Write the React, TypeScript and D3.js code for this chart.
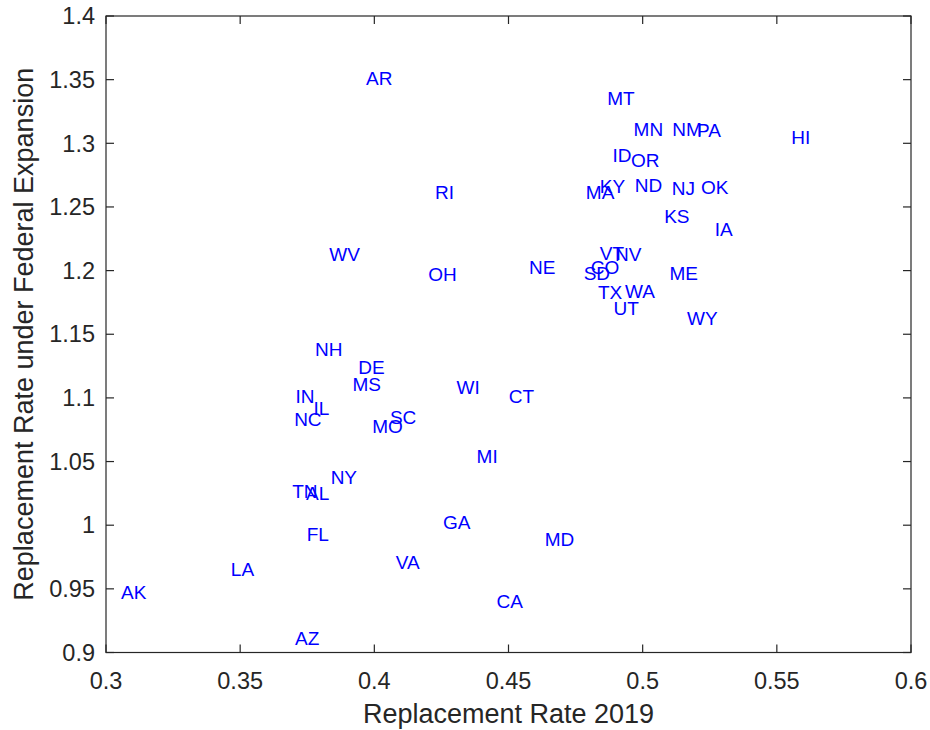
import React, { useEffect, useRef } from "react";
import * as d3 from "d3";

// state abbreviations with their 2019 replacement rate and the rate under federal expansion
const states = ["AR", "RI", "WV", "OH", "NH", "MT", "MN", "NM", "PA", "HI",
  "ID", "OR", "MA", "KY", "ND", "NJ", "OK", "KS", "IA", "VT",
  "NV", "NE", "CO", "SD", "ME", "TX", "WA", "UT", "WY", "DE",
  "MS", "IN", "IL", "NC", "SC", "MO", "NY", "TN", "AL", "FL",
  "LA", "VA", "AK", "AZ", "GA", "WI", "CT", "MI", "MD", "CA"];

const rate2019 = [0.3958, 0.4215, 0.3821, 0.4190, 0.3768, 0.4857, 0.4955, 0.5099, 0.5191, 0.5543,
  0.4876, 0.4945, 0.4777, 0.4829, 0.4959, 0.5097, 0.5206, 0.5069, 0.5257, 0.4829,
  0.4886, 0.4565, 0.4795, 0.4769, 0.5089, 0.4822, 0.4923, 0.4880, 0.5154, 0.3929,
  0.3907, 0.3695, 0.3762, 0.3690, 0.4047, 0.3981, 0.3826, 0.3683, 0.3734, 0.3737,
  0.3454, 0.4069, 0.3045, 0.3693, 0.4245, 0.4295, 0.4490, 0.4370, 0.4624, 0.4444];

const rateExpansion = [1.3508, 1.2613, 1.2128, 1.1969, 1.1379, 1.3351, 1.3108, 1.3108, 1.3102, 1.3045,
  1.2906, 1.2867, 1.2613, 1.2665, 1.2670, 1.2644, 1.2652, 1.2429, 1.2322, 1.2139,
  1.2128, 1.2024, 1.2029, 1.1977, 1.1977, 1.1832, 1.1838, 1.1702, 1.1624, 1.1239,
  1.1107, 1.1013, 1.0921, 1.0833, 1.0846, 1.0778, 1.0379, 1.0262, 1.0254, 0.9929,
  0.9655, 0.9712, 0.9476, 0.9115, 1.0024, 1.1086, 1.1016, 1.0544, 0.9890, 0.9398];

const xTicks = [0.3, 0.35, 0.4, 0.45, 0.5, 0.55, 0.6];
const yTicks = [0.9, 0.95, 1, 1.05, 1.1, 1.15, 1.2, 1.25, 1.3, 1.35, 1.4];

const W = 930;
const H = 730;
const FONT = "'Liberation Sans', Arial, Helvetica, sans-serif";
const AXIS_COLOR = "#262626";

export default function App() {
  const ref = useRef<SVGSVGElement>(null);

  useEffect(() => {
    const svg = d3.select(ref.current);
    svg.selectAll("*").remove();

    const left = 106, right = 911, top = 16, bottom = 652.5;

    const x = d3.scaleLinear().domain([0.3, 0.6]).range([left, right]);
    const y = d3.scaleLinear().domain([0.9, 1.4]).range([bottom, top]);
    const fmt = (d: number) => String(+d.toFixed(2));

    svg.append("rect")
      .attr("width", W)
      .attr("height", H)
      .attr("fill", "white");

    const tickLen = 8;
    const g = svg.append("g").attr("stroke", AXIS_COLOR).attr("stroke-width", 1.2);

    // ticks pointing inward on all four sides
    xTicks.forEach(t => {
      g.append("line").attr("x1", x(t)).attr("x2", x(t)).attr("y1", bottom).attr("y2", bottom - tickLen);
      g.append("line").attr("x1", x(t)).attr("x2", x(t)).attr("y1", top).attr("y2", top + tickLen);
    });
    yTicks.forEach(t => {
      g.append("line").attr("x1", left).attr("x2", left + tickLen).attr("y1", y(t)).attr("y2", y(t));
      g.append("line").attr("x1", right).attr("x2", right - tickLen).attr("y1", y(t)).attr("y2", y(t));
    });

    g.append("rect")
      .attr("x", left)
      .attr("y", top)
      .attr("width", right - left)
      .attr("height", bottom - top)
      .attr("fill", "none");

    svg.selectAll("text.xtick")
      .data(xTicks)
      .enter()
      .append("text")
      .attr("class", "xtick")
      .attr("x", d => x(d))
      .attr("y", bottom + 36)
      .attr("text-anchor", "middle")
      .attr("font-family", FONT)
      .attr("font-size", 23.5)
      .attr("fill", AXIS_COLOR)
      .text(fmt);

    svg.selectAll("text.ytick")
      .data(yTicks)
      .enter()
      .append("text")
      .attr("class", "ytick")
      .attr("x", left - 11)
      .attr("y", d => y(d))
      .attr("dy", "0.35em")
      .attr("text-anchor", "end")
      .attr("font-family", FONT)
      .attr("font-size", 23.5)
      .attr("fill", AXIS_COLOR)
      .text(fmt);

    svg.append("text")
      .attr("x", (left + right) / 2)
      .attr("y", 723)
      .attr("text-anchor", "middle")
      .attr("font-family", FONT)
      .attr("font-size", 27)
      .attr("fill", AXIS_COLOR)
      .text("Replacement Rate 2019");

    svg.append("text")
      .attr("transform", "translate(33," + (top + bottom) / 2 + ") rotate(-90)")
      .attr("text-anchor", "middle")
      .attr("font-family", FONT)
      .attr("font-size", 27)
      .attr("fill", AXIS_COLOR)
      .text("Replacement Rate under Federal Expansion");

    // state labels, left edge at the data point, vertically centred
    svg.selectAll("text.state")
      .data(states)
      .enter()
      .append("text")
      .attr("class", "state")
      .attr("x", (d, i) => x(rate2019[i]) + 3)
      .attr("y", (d, i) => y(rateExpansion[i]))
      .attr("dy", "0.35em")
      .attr("font-family", FONT)
      .attr("font-size", 19)
      .attr("fill", "#0000ff")
      .text(d => d);
  }, []);

  return (
    <svg ref={ref} width={W} height={H} style={{ position: "absolute", left: 0, top: 0 }} />
  );
}
